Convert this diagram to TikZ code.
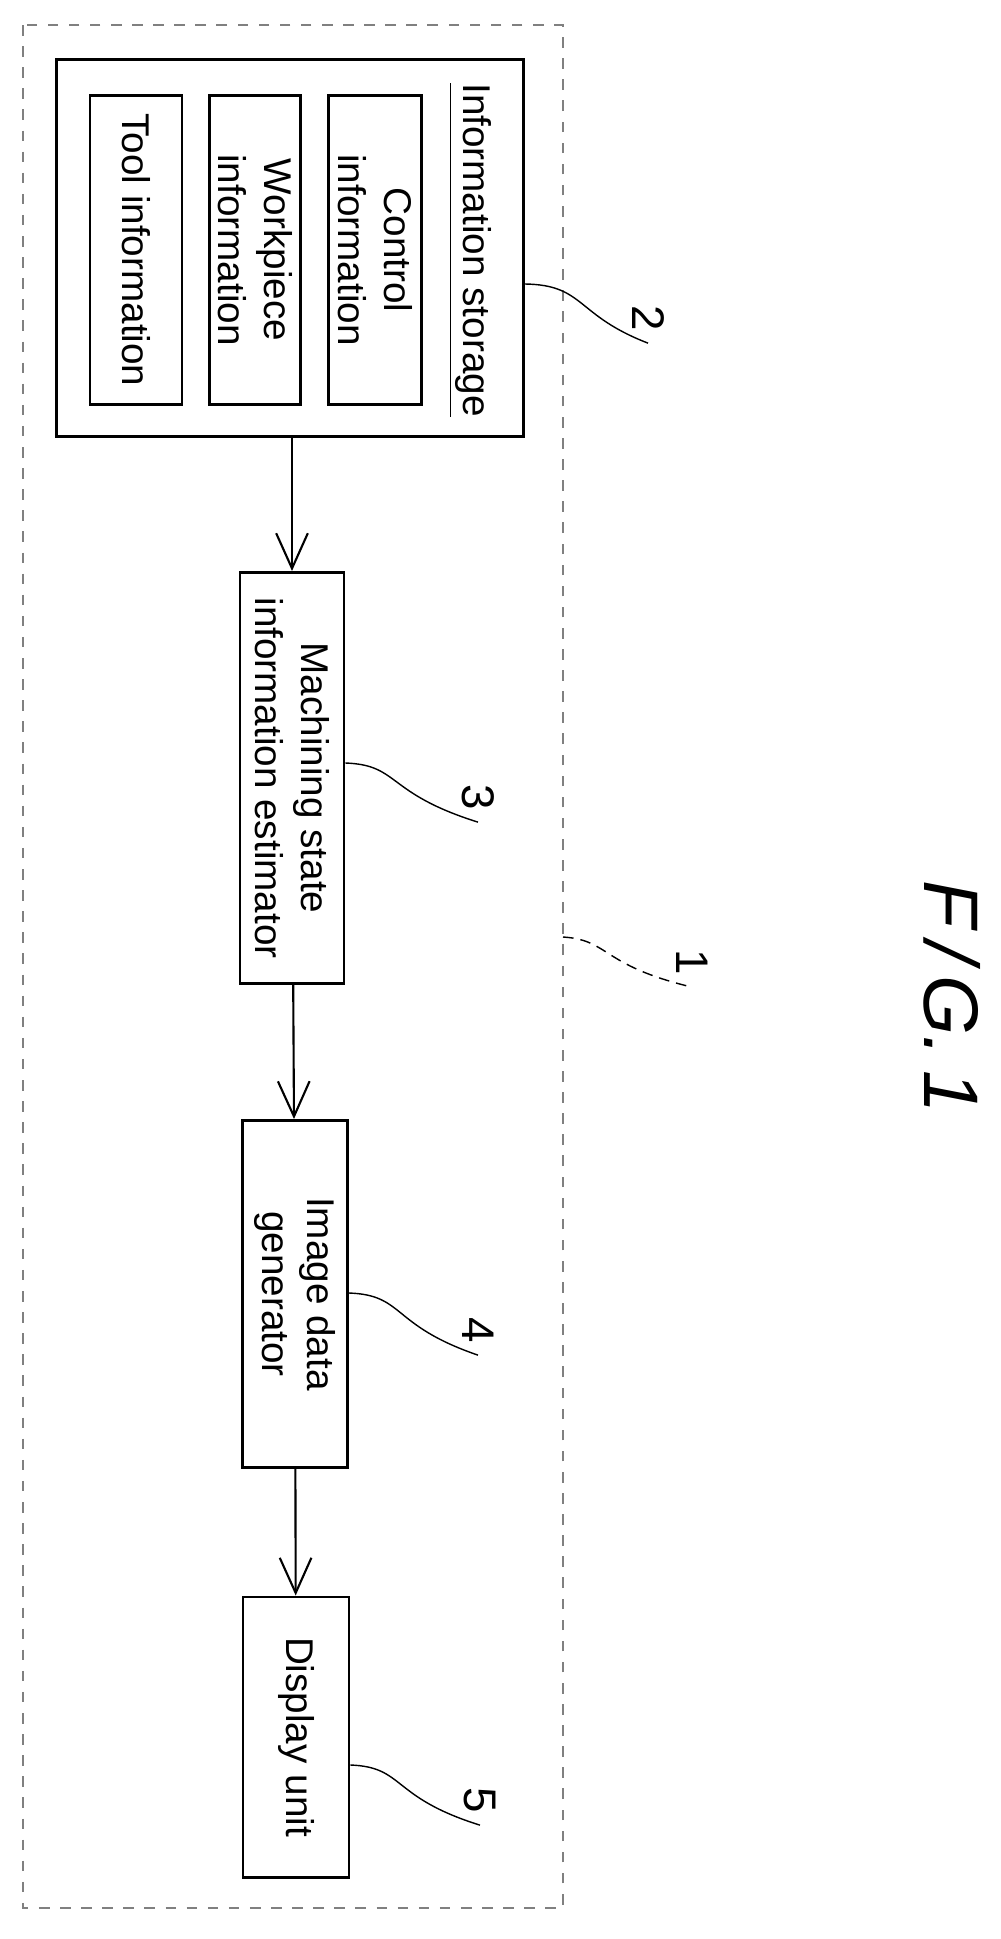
\documentclass[tikz,border=0pt]{standalone}
\usepackage{fontspec}
\setmainfont{Liberation Sans}
\usetikzlibrary{positioning,arrows.meta}
\tikzset{
  box/.style={draw,thick,inner sep=0pt},
  rt/.style={rotate=-90,align=center,font=\fontsize{11}{13}\selectfont},
  ref/.style={rotate=-90,font=\fontsize{13}{14}\selectfont},
  lead/.style={thin},
  flow/.style={semithick,-{Straight Barb[length=10pt,width=9pt]}},
}
\begin{document}
\begin{tikzpicture}[x=0.01cm,y=-0.01cm]
   \useasboundingbox (0,0) rectangle (1001,1939);
   % outer unit
   \draw[dashed,gray] (23,25) rectangle (563,1908);
   % information storage
   \node[box,minimum width=4.67cm,minimum height=3.77cm] (store) at (290,248) {};
   \node[rt] (storelbl) at (470,250) {\underline{Information storage}};
   \node[box,minimum width=0.93cm,minimum height=3.09cm] (ctrl) at (375,250) {};
   \node[rt] at (ctrl) {Control\\information};
   \node[box,minimum width=0.91cm,minimum height=3.09cm] (work) at (255,250) {};
   \node[rt] at (work) {Workpiece\\information};
   \node[box,minimum width=0.92cm,minimum height=3.09cm] (tool) at (136,250) {};
   \node[rt] at (tool) {Tool information};
   % chain
   \node[box,minimum width=1.04cm,minimum height=4.11cm] (est) at (292,778) {};
   \node[rt] at (est) {Machining state\\information estimator};
   \node[box,minimum width=1.05cm,minimum height=3.47cm] (img) at (295,1294) {};
   \node[rt] at (img) {Image data\\generator};
   \node[box,minimum width=1.06cm,minimum height=2.80cm] (disp) at (296,1737) {};
   \node[rt] at (disp) {Display unit};
   \draw[flow] (store.south -| est.north) -- (est.north);
   \draw[flow] (est) -- (img);
   \draw[flow] (img) -- (disp);
   % reference numerals
   \node[ref] (n2) at (648,318) {2};
   \node[ref] (n3) at (478,797) {3};
   \node[ref] (n1) at (692,962) {1};
   \node[ref] (n4) at (478,1330) {4};
   \node[ref] (n5) at (480,1800) {5};
   \coordinate (c2) at (store.east |- 0,284);
   \coordinate (c3) at (est.east |- 0,763);
   \coordinate (c1) at (563,937);
   \coordinate (c4) at (img.east |- 0,1293);
   \coordinate (c5) at (disp.east |- 0,1765);
   \draw[lead] (c2) .. controls (585,285) and (575,315) .. (n2.east);
   \draw[lead] (c3) .. controls (400,765) and (385,793) .. (n3.east);
   \draw[lead,densely dashed] (c1) .. controls (610,940) and (600,965) .. (n1.east);
   \draw[lead] (c4) .. controls (405,1295) and (390,1325) .. (n4.east);
   \draw[lead] (c5) .. controls (405,1767) and (390,1797) .. (n5.east);
   % figure label
   \node[rotate=-90,font=\fontsize{22}{22}\selectfont\itshape] (fig) at (952,997) {F\,/\,G.\,1};
\end{tikzpicture}
\end{document}
